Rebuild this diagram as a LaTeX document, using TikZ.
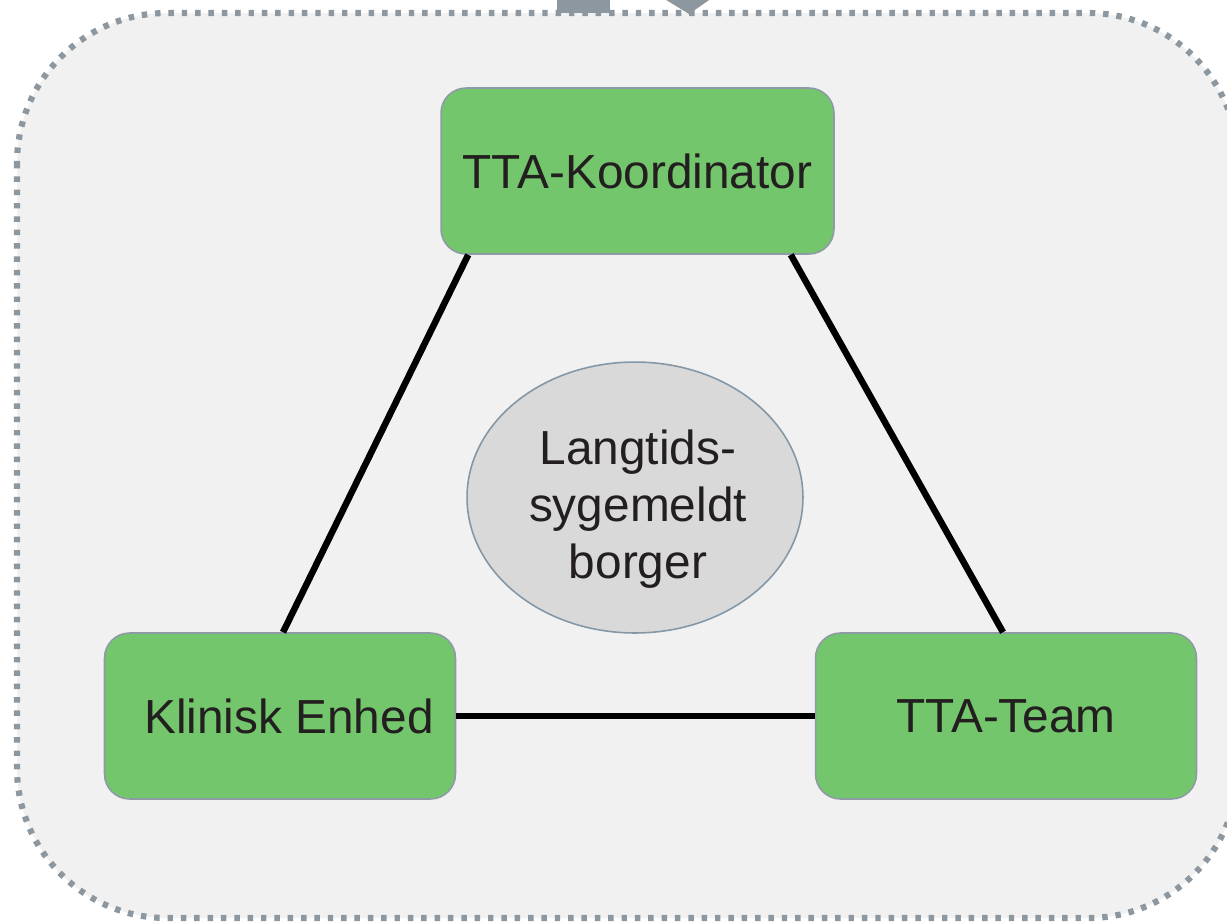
\documentclass[tikz,border=0pt]{standalone}
\usepackage{fontspec}
\setmainfont{Liberation Sans}
\usetikzlibrary{calc,shapes.geometric}
\definecolor{bgfill}{HTML}{F1F1F1}
\definecolor{dotgray}{HTML}{8C979F}
\definecolor{boxgreen}{HTML}{73C66B}
\definecolor{boxborder}{HTML}{8E9AA6}
\definecolor{ellfill}{HTML}{D9D9D9}
\definecolor{ellborder}{HTML}{8497A6}
\definecolor{txt}{HTML}{231F20}
\tikzset{
  container/.style={draw=dotgray, fill=bgfill, line width=3.5pt, rounded corners=3cm,
    dash pattern=on 3.1pt off 4.5pt},
  label/.style={text=txt, font=\fontsize{27.2}{32.4}\selectfont, inner sep=0pt},
  greenbox/.style={draw=boxborder, fill=boxgreen, line width=0.9pt, rounded corners=0.5cm,
    minimum height=3.32cm, label, inner sep=0pt},
  centerell/.style={ellipse, draw=ellborder, fill=ellfill, line width=0.9pt,
    minimum width=6.72cm, minimum height=5.42cm, inner sep=0pt},
  link/.style={draw=black, line width=3.7pt},
  feed/.style={fill=dotgray, draw=none}
}
\begin{document}
\begin{tikzpicture}[x=0.02cm, y=-0.02cm]
\useasboundingbox (0,0) rectangle (1227,921);
\clip (0,0) rectangle (1227,921);
\fill[white] (0,0) rectangle (1227,921);
\draw[container] (17,13) rectangle (1238,918);
\fill[feed] (557,-2) rectangle (610,13);
\fill[feed] (663,-2) -- (712,-2) -- (689,14) -- cycle;
\node[greenbox, minimum width=7.86cm] (koord) at (637.5,171) {TTA-Koordinator};
\node[greenbox, minimum width=7.02cm] (klin) at (280,716) {};
\node[label] (klintxt) at (289,716) {Klinisk Enhed};
\node[greenbox, minimum width=7.62cm] (team) at (1006,716) {TTA-Team};
\node[centerell] (borger) at (635,497.5) {};
\node[label, align=center] (borgertxt) at (638,509) {Langtids-\\sygemeldt\\borger};
\draw[link] ($(koord.south west)+(28,0)$) -- ($(klin.north)+(3,0)$);
\draw[link] ($(koord.south east)+(-44,0)$) -- ($(team.north)+(-3,0)$);
\draw[link] (klin.east) -- (team.west);
\end{tikzpicture}
\end{document}
